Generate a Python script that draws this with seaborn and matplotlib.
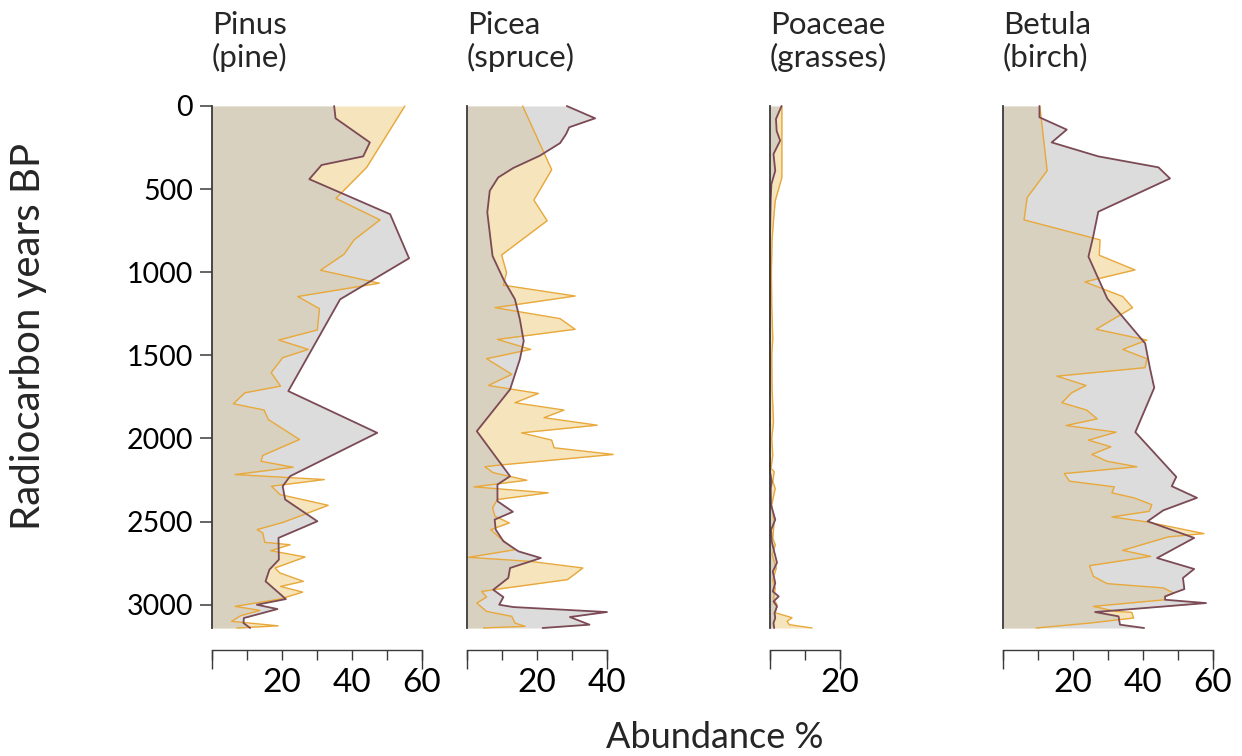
import matplotlib
matplotlib.use("Agg")
import matplotlib.pyplot as plt
import seaborn as sns
import pandas as pd

# ---- pollen abundance (%) against radiocarbon age (years BP) ----
taxa = ["Pinus", "Picea", "Poaceae", "Betula"]
common_names = ["pine", "spruce", "grasses", "birch"]
x_max = [60, 40, 20, 60]
x_tick_labels = [[20, 40, 60], [20, 40], [20], [20, 40, 60]]
age_ticks = [0, 500, 1000, 1500, 2000, 2500, 3000]

# dark (grey-filled) record
pinus_dark_age = [0, 74, 219, 303, 355, 440, 651, 916, 1163, 1715, 1966, 2227, 2287, 2367,
                  2498, 2598, 2729, 2789, 2859, 2966, 3000, 3026, 3080, 3110, 3140]
pinus_dark_pct = [34.9, 35.3, 45.1, 43.2, 31.3, 27.8, 50.9, 56.3, 36.6, 21.8, 47.2, 22.3, 20.2, 20.9,
                  30.1, 19.0, 19.1, 16.4, 15.3, 21.1, 12.8, 18.7, 9.1, 9.0, 10.9]

picea_dark_age = [0, 74, 128, 169, 223, 299, 373, 430, 510, 640, 902, 1042, 1163, 1283, 1414, 1524,
                  1705, 1956, 2227, 2277, 2377, 2441, 2488, 2548, 2618, 2679, 2719, 2779, 2839,
                  2910, 2954, 3000, 3014, 3044, 3074, 3120, 3140]
picea_dark_pct = [28.5, 36.6, 29.2, 28.3, 26.6, 20.8, 13.2, 8.9, 6.5, 5.8, 7.3, 10.4, 13.7, 15.1, 16.2, 15.1,
                  12.3, 2.8, 12.3, 8.7, 8.7, 13.1, 7.9, 8.2, 10.4, 14.7, 21.1, 12.3, 11.8,
                  7.5, 10.4, 9.2, 13.2, 40.0, 29.4, 35.0, 21.6]

poaceae_dark_age = [0, 78, 150, 208, 289, 390, 470, 560, 800, 1200, 2200, 2260, 2300, 2400, 2488,
                    2550, 2620, 2680, 2747, 2800, 2870, 2920, 2950, 2980, 3010, 3050, 3080, 3110, 3140]
poaceae_dark_pct = [3.3, 1.7, 1.9, 2.9, 1.0, 1.5, 0.4, 0.2, 0.0, 0.0, 0.0, 0.5, 0.2, 0.3, 1.5,
                    0.3, 0.5, 1.2, 2.0, 0.8, 1.5, 0.8, 2.5, 1.0, 2.0, 1.3, 1.5, 1.0, 1.2]

betula_dark_age = [0, 68, 142, 219, 303, 369, 436, 636, 781, 906, 1159, 1428, 1580, 1695, 1962, 2231,
                   2287, 2357, 2432, 2498, 2598, 2719, 2785, 2839, 2906, 2926, 2950, 2970, 2990,
                   3044, 3070, 3120, 3140]
betula_dark_pct = [10.5, 10.5, 18.3, 14.0, 27.3, 44.5, 47.8, 27.3, 25.9, 24.5, 29.9, 40.7, 42.1, 43.3, 37.9, 49.6,
                   48.3, 55.5, 45.9, 41.4, 54.7, 44.1, 54.7, 51.5, 51.9, 49.3, 46.4, 46.4, 58.1,
                   26.4, 33.1, 33.5, 40.4]

# light (yellow-filled) record
pinus_light_age = [0, 369, 556, 685, 805, 892, 988, 1066, 1146, 1219, 1347, 1408, 1464, 1514, 1604,
                   1685, 1725, 1791, 1829, 1886, 2006, 2102, 2137, 2173, 2217, 2247, 2287, 2337,
                   2402, 2504, 2548, 2568, 2625, 2639, 2675, 2713, 2779, 2809, 2859, 2890, 2924,
                   2966, 3010, 3034, 3066, 3100, 3127, 3140]
pinus_light_pct = [55.1, 44.2, 35.4, 48.0, 40.6, 37.7, 31.0, 47.8, 24.5, 30.7, 30.1, 19.1, 27.5, 20.2, 16.9,
                   19.6, 9.4, 6.1, 14.9, 16.1, 25.0, 14.5, 14.0, 23.2, 6.6, 32.1, 17.0, 19.4,
                   33.2, 20.4, 12.9, 14.5, 15.1, 22.3, 16.8, 26.6, 18.0, 19.4, 26.1, 19.6, 25.9,
                   19.4, 6.6, 13.7, 8.2, 5.6, 18.9, 7.1]

picea_light_age = [0, 383, 566, 690, 896, 1002, 1078, 1143, 1213, 1279, 1343, 1404, 1464, 1520, 1614,
                   1681, 1729, 1785, 1829, 1875, 1920, 1966, 2010, 2056, 2096, 2160, 2170, 2206,
                   2251, 2291, 2327, 2367, 2417, 2468, 2508, 2548, 2598, 2669, 2715, 2739, 2779,
                   2849, 2906, 2920, 2954, 2990, 3040, 3070, 3110, 3130, 3140]
picea_light_pct = [15.9, 24.2, 19.1, 22.9, 9.9, 11.3, 10.4, 30.9, 8.0, 26.6, 30.9, 8.7, 18.2, 5.6, 12.8,
                   6.1, 20.4, 13.7, 27.7, 22.0, 37.2, 15.6, 24.2, 24.9, 41.8, 9.3, 5.1, 7.5,
                   17.1, 2.0, 23.2, 8.7, 7.3, 8.0, 12.1, 6.8, 9.4, 13.7, 0.4, 18.0, 33.1,
                   28.7, 8.9, 4.2, 5.6, 2.8, 5.6, 12.8, 13.7, 16.6, 4.7]

poaceae_light_age = [0, 430, 570, 690, 800, 1000, 1200, 1400, 1500, 1700, 1900, 2000, 2100, 2180,
                     2200, 2260, 2300, 2400, 2500, 2600, 2640, 2700, 2780, 2850, 2900, 2960,
                     3000, 3048, 3078, 3100, 3120, 3140]
poaceae_light_pct = [3.4, 3.4, 1.5, 1.0, 0.6, 0.4, 0.5, 0.8, 0.5, 0.6, 1.0, 0.5, 0.8, 0.3,
                     1.2, 0.8, 1.5, 0.5, 1.2, 0.8, 1.5, 0.6, 1.8, 0.8, 1.5, 1.0,
                     2.0, 1.5, 6.3, 4.9, 5.5, 12.0]

betula_light_age = [0, 389, 550, 685, 805, 898, 986, 1058, 1146, 1213, 1343, 1408, 1464, 1520, 1574,
                    1625, 1681, 1725, 1785, 1829, 1882, 1922, 1962, 2010, 2050, 2096, 2137, 2170,
                    2211, 2257, 2291, 2327, 2357, 2398, 2438, 2472, 2502, 2572, 2592, 2673, 2709,
                    2765, 2829, 2873, 2899, 2930, 2950, 2970, 3010, 3040, 3046, 3080, 3110, 3140]
betula_light_pct = [10.6, 12.7, 7.0, 6.1, 27.8, 27.6, 37.8, 23.5, 34.3, 37.1, 26.7, 41.2, 34.3, 41.2, 40.7,
                    15.5, 23.8, 19.7, 16.9, 24.0, 27.0, 18.1, 32.4, 24.5, 30.9, 25.5, 29.8, 38.3,
                    17.6, 19.1, 31.9, 31.2, 37.5, 42.6, 41.9, 31.2, 41.2, 57.5, 47.3, 34.3, 42.3,
                    24.8, 25.9, 29.8, 45.9, 48.9, 46.4, 46.4, 25.9, 32.4, 36.9, 37.4, 25.0, 9.6]

dark_series = [(pinus_dark_age, pinus_dark_pct), (picea_dark_age, picea_dark_pct),
               (poaceae_dark_age, poaceae_dark_pct), (betula_dark_age, betula_dark_pct)]
light_series = [(pinus_light_age, pinus_light_pct), (picea_light_age, picea_light_pct),
                (poaceae_light_age, poaceae_light_pct), (betula_light_age, betula_light_pct)]

# ---- styling ----
sns.set_style("ticks")
plt.rcParams["font.family"] = ["Lato", "DejaVu Sans"]

MAROON = "#7c4a55"
ORANGE = "#e8a83a"
LIGHT_FILL = "#f5e4bc"
GREY_FILL = "#c2c3c2"
SPINE = "#3a3a3a"

W, H = 1242, 756
fig = plt.figure(figsize=(W / 100, H / 100), dpi=100)

top_px, bottom_px = 106, 628
panel_left_px = [212, 467, 770, 1002.7]
px_per_pct = 3.5
AGE_MAX = 3140

axes = []
for i, taxon in enumerate(taxa):
    left = panel_left_px[i] / W
    width = x_max[i] * px_per_pct / W
    ax = fig.add_axes([left, (H - bottom_px) / H, width, (bottom_px - top_px) / H])
    axes.append(ax)

    la, lp = light_series[i]
    da, dp = dark_series[i]
    ax.fill_betweenx(la, 0, lp, color=LIGHT_FILL, lw=0, zorder=1, clip_on=False)
    ax.fill_betweenx(da, 0, dp, color=GREY_FILL, alpha=0.57, lw=0, zorder=2, clip_on=False)

    light_df = pd.DataFrame({"age": la, "pct": lp})
    dark_df = pd.DataFrame({"age": da, "pct": dp})
    sns.lineplot(data=light_df, x="pct", y="age", orient="y", sort=False, estimator=None,
                 color=ORANGE, lw=1.0, ax=ax, zorder=3, clip_on=False)
    sns.lineplot(data=dark_df, x="pct", y="age", orient="y", sort=False, estimator=None,
                 color=MAROON, lw=1.3, ax=ax, zorder=4, clip_on=False)

    ax.set_ylim(AGE_MAX, 0)
    ax.set_xlim(0, x_max[i])
    ax.set_xlabel("")
    ax.set_ylabel("")

    for side in ("top", "right"):
        ax.spines[side].set_visible(False)
    ax.spines["left"].set_color(SPINE)
    ax.spines["left"].set_linewidth(1.3)
    ax.spines["left"].set_zorder(5)
    ax.spines["bottom"].set_position(("outward", 15.5))
    ax.spines["bottom"].set_bounds(0, x_max[i])
    ax.spines["bottom"].set_color(SPINE)
    ax.spines["bottom"].set_linewidth(1.0)

    # x axis: short ticks every 10 %, long ticks at both ends, labels only at chosen values
    major = list(range(0, x_max[i] + 1, 10))
    ax.xaxis.remove_overlapping_locs = False
    ax.set_xticks(major)
    ax.set_xticklabels([str(v) if v in x_tick_labels[i] else "" for v in major])
    ax.set_xticks([0, x_max[i]], minor=True)
    ax.tick_params(axis="x", which="major", length=7.2, width=1.0, color=SPINE,
                   pad=6, labelsize=24, labelcolor="black")
    ax.tick_params(axis="x", which="minor", length=13.5, width=1.0, color=SPINE)

    if i == 0:
        ax.set_yticks(age_ticks)
        ax.set_yticklabels([str(v) for v in age_ticks])
        ax.tick_params(axis="y", length=8.6, width=1.1, color=SPINE, pad=5,
                       labelsize=20.5, labelcolor="black")
    else:
        ax.set_yticks([])
        ax.tick_params(axis="y", left=False, labelleft=False)

    fig.text(panel_left_px[i] / W, 1 - 11 / H, f"{taxon}\n({common_names[i]})",
             ha="left", va="top", fontsize=22.5, linespacing=1.17)

fig.text(29 / W, 1 - 336 / H, "Radiocarbon years BP", rotation=90,
         ha="center", va="center", fontsize=29)
fig.text(715 / W, 1 - 738 / H, "Abundance %", ha="center", va="center", fontsize=26)

fig.savefig("out.png", dpi=100)
